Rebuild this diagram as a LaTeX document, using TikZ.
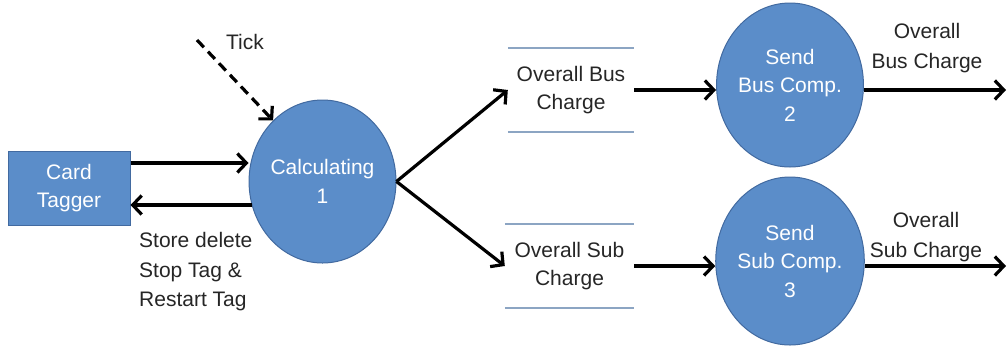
\documentclass[tikz,border=0pt]{standalone}
\usepackage{fontspec}
\setmainfont{Liberation Sans}
\usepackage[table]{xcolor}
\usepackage{tikz}
\usetikzlibrary{arrows.meta,shapes.geometric}

\definecolor{procblue}{RGB}{91,141,201}
\definecolor{procedge}{RGB}{66,106,160}
\definecolor{storegray}{RGB}{140,165,195}

\begin{document}
\begin{tikzpicture}[x=1pt,y=-1pt,
every node/.style={font=\fontsize{21}{28.5}\selectfont, align=center, inner sep=0pt},
proc/.style={ellipse, fill=procblue, draw=procedge, line width=1pt, text=white},
ext/.style={rectangle, fill=procblue, draw=procedge, line width=1pt, text=white},
datastore/.style={rectangle, text=black!85},
storeedge/.style={draw=storegray, line width=2.2pt},
lbl/.style={text=black!85},
flow/.style={line width=3.2pt, -{Straight Barb[length=9pt,width=19pt]}}]
\useasboundingbox (0,0) rectangle (1008,346);

\node[ext, minimum width=122, minimum height=74] (tagger) at (69,188) {Card\\Tagger};
\node[proc, minimum width=135, minimum height=163] (calc) at (322.5,181.5) {Calculating\\1};
\node[datastore, minimum width=126, minimum height=84] (busstore) at (571,90) {Overall Bus\\Charge};
\node[datastore, minimum width=129, minimum height=84] (substore) at (569.5,266) {Overall Sub\\Charge};
\node[proc, minimum width=129, minimum height=164] (sendbus) at (790,85) {Send\\Bus Comp.\\2};
\node[proc, minimum width=129, minimum height=168] (sendsub) at (790,261) {Send\\Sub Comp.\\3};

\coordinate (tick) at (197,40);
\coordinate (busout) at (1006,90);
\coordinate (subout) at (1006,266);

% data store edges
\draw[storeedge] (busstore.north west) -- (busstore.north east) (busstore.south west) -- (busstore.south east);
\draw[storeedge] (substore.north west) -- (substore.north east) (substore.south west) -- (substore.south east);

% labels
\node[lbl] (ticklbl) at (245,42) {Tick};
\node[lbl, anchor=west, align=left, font=\fontsize{21}{29.5}\selectfont] (tagmsg) at (139,272) {Store delete\\Stop Tag \&\\Restart Tag};
\node[lbl, font=\fontsize{21}{30}\selectfont] (busmsg) at (927,48) {Overall\\Bus Charge};
\node[lbl, font=\fontsize{21}{30}\selectfont] (submsg) at (926,237) {Overall\\Sub Charge};

% flows
\draw[flow] ([yshift=25pt]tagger.east) -- ([yshift=25pt]tagger.east -| calc.west);
\draw[flow, shorten <=-3pt] ([yshift=-17pt]tagger.east -| calc.west) -- ([yshift=-17pt]tagger.east);
\draw[flow, dash pattern=on 10pt off 6pt] (tick) -- (calc.129);
\draw[flow] (calc.east) -- (busstore.west);
\draw[flow] (calc.east) -- (substore.west);
\draw[flow] (busstore.east) -- (busstore.east -| sendbus.west);
\draw[flow] (substore.east) -- (substore.east -| sendsub.west);
\draw[flow] (busout -| sendbus.east) -- (busout);
\draw[flow] (subout -| sendsub.east) -- (subout);
\end{tikzpicture}
\end{document}
